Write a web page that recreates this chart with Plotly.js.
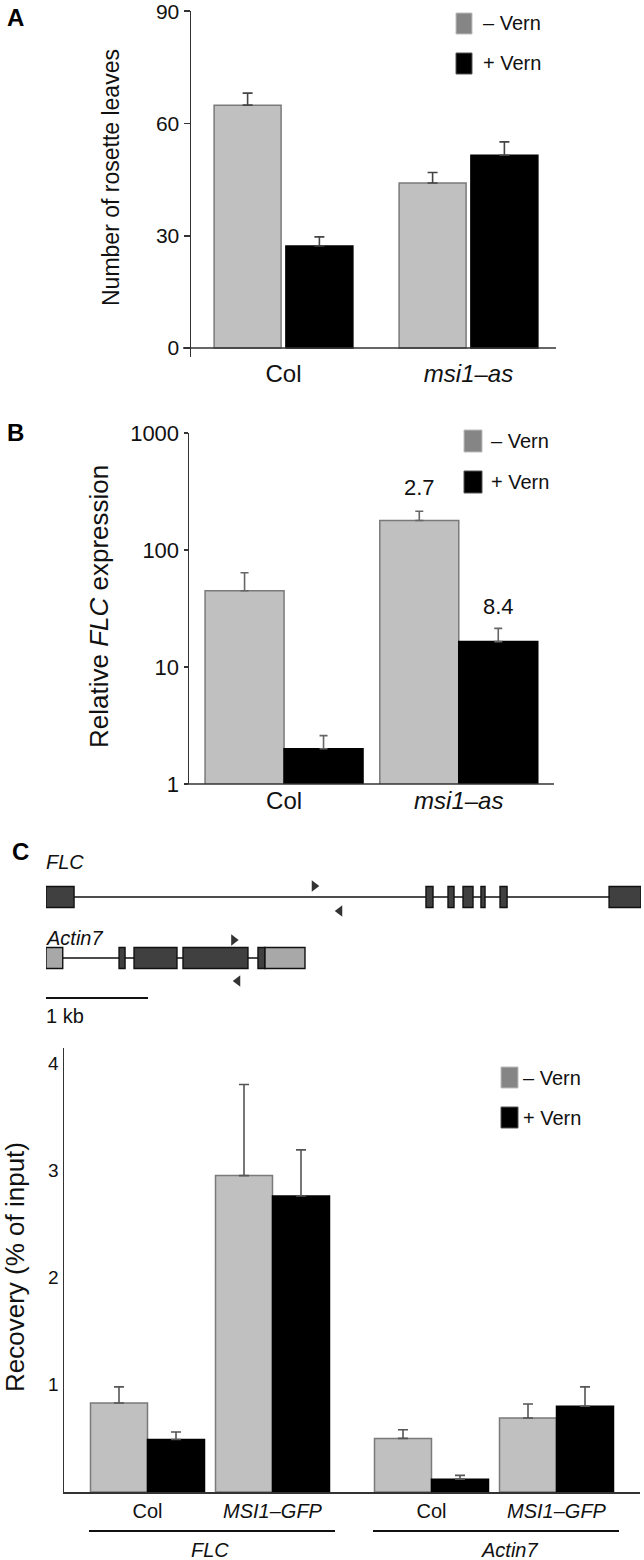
<!DOCTYPE html>
<html><head><meta charset="utf-8">
<script src="https://cdn.plot.ly/plotly-3.0.1.min.js"></script>
<style>html,body{margin:0;padding:0;background:#fff}</style>
</head><body><div id="chart" style="width:644px;height:1560px"></div>
<script>
// ---------- Panel A: flowering time (rosette leaves) ----------
const groupsA = ["Col", "<i>msi1–as</i>"];
const leavesMinus = [64.9, 44.1];
const leavesMinusErr = [3.2, 2.8];
const leavesPlus = [27.3, 51.5];
const leavesPlusErr = [2.4, 3.6];

// ---------- Panel B: relative FLC expression (log) ----------
const groupsB = ["Col", "<i>msi1–as</i>"];
const flcMinus = [44.9, 179];
const flcMinusErrTop = [64, 215];
const flcPlus = [2.0, 16.5];
const flcPlusErrTop = [2.59, 21.4];
const foldLabelsMinus = ["", "2.7"];
const foldLabelsPlus = ["", "8.4"];
const logTicks = [1, 10, 100, 1000];

// ---------- Panel C: gene models (kb) ----------
const flcExonStart = [0, 3.725, 3.941, 4.088, 4.264, 4.451, 5.52];
const flcExonEnd   = [0.275, 3.794, 4.0, 4.186, 4.304, 4.52, 5.833];
const actUtrStart  = [0, 2.147];
const actUtrEnd    = [0.164, 2.539];
const actExonStart = [0.716, 0.863, 1.343, 2.078];
const actExonEnd   = [0.775, 1.284, 1.98, 2.147];
const flcPrimerFwd = 2.63, flcPrimerRev = 2.88;
const actPrimerFwd = 1.84, actPrimerRev = 1.88;
const scaleBarKb = 1;

// ---------- Panel C: ChIP recovery ----------
const chipGenotypes = ["Col", "<i>MSI1–GFP</i>"];
const flcRecMinus = [0.83, 2.95];
const flcRecMinusErr = [0.15, 0.85];
const flcRecPlus = [0.49, 2.76];
const flcRecPlusErr = [0.07, 0.43];
const actRecMinus = [0.50, 0.69];
const actRecMinusErr = [0.08, 0.13];
const actRecPlus = [0.12, 0.80];
const actRecPlusErr = [0.035, 0.18];
const legendLabels = ["– Vern", "+ Vern"];

// ---------- helpers ----------
const W = 644, H = 1560;
const X = p => p / W;
const Y = p => 1 - p / H;
const FONT = "Liberation Sans, Arial, sans-serif";
const NARROW = "Liberation Sans Narrow, Arial Narrow, Liberation Sans, Arial, sans-serif";
const GRAY = "#c0c0c0", GRAYLINE = "#7a7a7a", BLACK = "#000000";

function errUp(arr, color, w) {
  return {type: "data", array: arr, arrayminus: arr.map(() => 0), symmetric: false,
          color: color, thickness: 1.6, width: w};
}

const traces = [];
// Panel A
const wA = 0.362;
traces.push({type: "bar", x: groupsA, y: leavesMinus, xaxis: "x", yaxis: "y",
  width: wA, offset: -wA - 0.013, marker: {color: GRAY, line: {color: GRAYLINE, width: 1.5}},
  error_y: errUp(leavesMinusErr, "#444", 5), showlegend: false, hoverinfo: "skip"});
traces.push({type: "bar", x: groupsA, y: leavesPlus, xaxis: "x", yaxis: "y",
  width: wA, offset: 0.013, marker: {color: BLACK, line: {color: BLACK, width: 1.5}},
  error_y: errUp(leavesPlusErr, "#444", 5), showlegend: false, hoverinfo: "skip"});

// Panel B
const wB = 0.452;
traces.push({type: "bar", x: groupsB, y: flcMinus, xaxis: "x2", yaxis: "y2",
  width: wB, offset: -wB, marker: {color: GRAY, line: {color: GRAYLINE, width: 1.5}},
  error_y: errUp(flcMinusErrTop.map((t, i) => t - flcMinus[i]), "#666", 4),
  showlegend: false, hoverinfo: "skip"});
traces.push({type: "bar", x: groupsB, y: flcPlus, xaxis: "x2", yaxis: "y2",
  width: wB, offset: 0, marker: {color: BLACK, line: {color: BLACK, width: 1.5}},
  error_y: errUp(flcPlusErrTop.map((t, i) => t - flcPlus[i]), "#666", 4),
  showlegend: false, hoverinfo: "skip"});

// Panel C gene models: primers as markers
const FLC_ROW = 133, ACT_ROW = 72, BAR_ROW = 32, HALF = 10.5;
traces.push({type: "scatter", mode: "markers", xaxis: "x3", yaxis: "y3",
  x: [flcPrimerFwd, actPrimerFwd], y: [FLC_ROW + 11, ACT_ROW + 18],
  marker: {symbol: "triangle-right", size: 10, color: "#333"}, showlegend: false, hoverinfo: "skip"});
traces.push({type: "scatter", mode: "markers", xaxis: "x3", yaxis: "y3",
  x: [flcPrimerRev, actPrimerRev], y: [FLC_ROW - 14, ACT_ROW - 23],
  marker: {symbol: "triangle-left", size: 10, color: "#333"}, showlegend: false, hoverinfo: "skip"});

// Panel C ChIP
const wC = 0.456;
[["x4", flcRecMinus, flcRecMinusErr, flcRecPlus, flcRecPlusErr],
 ["x5", actRecMinus, actRecMinusErr, actRecPlus, actRecPlusErr]].forEach(g => {
  traces.push({type: "bar", x: chipGenotypes, y: g[1], xaxis: g[0], yaxis: "y4",
    width: wC, offset: -wC, marker: {color: GRAY, line: {color: GRAYLINE, width: 1.5}},
    error_y: errUp(g[2], "#555", 5), showlegend: false, hoverinfo: "skip"});
  traces.push({type: "bar", x: chipGenotypes, y: g[3], xaxis: g[0], yaxis: "y4",
    width: wC, offset: 0, marker: {color: BLACK, line: {color: BLACK, width: 1.5}},
    error_y: errUp(g[4], "#555", 5), showlegend: false, hoverinfo: "skip"});
});

// ---------- shapes ----------
const shapes = [];
// Axis lines (crossing style)
shapes.push({type: "line", xref: "paper", yref: "y", x0: X(183), x1: X(556), y0: 0, y1: 0,
  line: {color: "#333", width: 1.5}});
shapes.push({type: "line", xref: "paper", yref: "paper", x0: X(185), x1: X(554), y0: Y(784), y1: Y(784),
  line: {color: "#333", width: 1.5}});
// gene models
shapes.push({type: "line", xref: "x3", yref: "y3", x0: flcExonStart[0], x1: flcExonEnd[flcExonEnd.length - 1],
  y0: FLC_ROW, y1: FLC_ROW, line: {color: "#111", width: 1.6}, layer: "below"});
flcExonStart.forEach((s, i) => shapes.push({type: "rect", xref: "x3", yref: "y3",
  x0: s, x1: flcExonEnd[i], y0: FLC_ROW - HALF, y1: FLC_ROW + HALF,
  fillcolor: "#404040", line: {color: "#111", width: 1.4}}));
shapes.push({type: "line", xref: "x3", yref: "y3", x0: actUtrStart[0], x1: actUtrEnd[actUtrEnd.length - 1],
  y0: ACT_ROW, y1: ACT_ROW, line: {color: "#111", width: 1.6}, layer: "below"});
actExonStart.forEach((s, i) => shapes.push({type: "rect", xref: "x3", yref: "y3",
  x0: s, x1: actExonEnd[i], y0: ACT_ROW - HALF, y1: ACT_ROW + HALF,
  fillcolor: "#404040", line: {color: "#111", width: 1.4}}));
actUtrStart.forEach((s, i) => shapes.push({type: "rect", xref: "x3", yref: "y3",
  x0: s, x1: actUtrEnd[i], y0: ACT_ROW - HALF, y1: ACT_ROW + HALF,
  fillcolor: "#a8a8a8", line: {color: "#111", width: 1.4}}));
shapes.push({type: "line", xref: "x3", yref: "y3", x0: 0, x1: scaleBarKb, y0: BAR_ROW, y1: BAR_ROW,
  line: {color: "#111", width: 2}});
// gene underlines in ChIP panel
shapes.push({type: "line", xref: "paper", yref: "paper", x0: X(89), x1: X(335), y0: Y(1531), y1: Y(1531),
  line: {color: "#111", width: 2}});
shapes.push({type: "line", xref: "paper", yref: "paper", x0: X(373), x1: X(619), y0: Y(1531), y1: Y(1531),
  line: {color: "#111", width: 2}});

// legends (swatch + label)
const annotations = [];
function legend(x0, x1, yTop1, yTop2, h, tx, size) {
  shapes.push({type: "rect", xref: "paper", yref: "paper", x0: X(x0), x1: X(x1), y0: Y(yTop1 + h), y1: Y(yTop1),
    fillcolor: "#858585", line: {color: "#bdbdbd", width: 1}});
  shapes.push({type: "rect", xref: "paper", yref: "paper", x0: X(x0), x1: X(x1), y0: Y(yTop2 + h), y1: Y(yTop2),
    fillcolor: "#000", line: {color: "#555", width: 1}});
  annotations.push({xref: "paper", yref: "paper", x: X(tx), y: Y(yTop1 + h / 2), xanchor: "left", yanchor: "middle",
    text: legendLabels[0], showarrow: false, font: {family: NARROW, size: size, color: "#111"}});
  annotations.push({xref: "paper", yref: "paper", x: X(tx), y: Y(yTop2 + h / 2), xanchor: "left", yanchor: "middle",
    text: legendLabels[1], showarrow: false, font: {family: NARROW, size: size, color: "#111"}});
}
legend(456, 472, 13, 53, 21, 481, 20);
legend(464, 482, 430, 471, 22, 489, 20);
legend(501, 518, 1067, 1107, 21, 521, 20);

// panel letters
[["A", 16, 18], ["B", 16, 432], ["C", 20, 852]].forEach(l => annotations.push({
  xref: "paper", yref: "paper", x: X(l[1]), y: Y(l[2]), xanchor: "center", yanchor: "middle",
  text: "<b>" + l[0] + "</b>", showarrow: false, font: {family: FONT, size: 24, color: "#000"}}));

// axis titles
[["Number of rosette leaves", 111, 178, 23], ["Relative <i>FLC</i> expression", 99, 607, 26],
 ["Recovery (% of input)", 15, 1267, 26]].forEach(t => annotations.push({
  xref: "paper", yref: "paper", x: X(t[1]), y: Y(t[2]), xanchor: "center", yanchor: "middle",
  text: t[0], textangle: -90, showarrow: false, font: {family: FONT, size: t[3], color: "#111"}}));

// fold-change labels in panel B
foldLabelsMinus.forEach((s, i) => { if (s) annotations.push({xref: "x2", yref: "y2",
  x: i - wB / 2, y: Math.log10(flcMinusErrTop[i]), yanchor: "bottom", yshift: 9, text: s,
  showarrow: false, font: {family: FONT, size: 22, color: "#111"}}); });
foldLabelsPlus.forEach((s, i) => { if (s) annotations.push({xref: "x2", yref: "y2",
  x: i + wB / 2, y: Math.log10(flcPlusErrTop[i]), yanchor: "bottom", yshift: 7, text: s,
  showarrow: false, font: {family: FONT, size: 22, color: "#111"}}); });

// gene labels
annotations.push({xref: "paper", yref: "paper", x: X(44), y: Y(862), xanchor: "left", yanchor: "middle",
  text: "<i>FLC</i>", showarrow: false, font: {family: NARROW, size: 20, color: "#111"}});
annotations.push({xref: "paper", yref: "paper", x: X(44), y: Y(938), xanchor: "left", yanchor: "middle",
  text: "<i>Actin7</i>", showarrow: false, font: {family: NARROW, size: 20, color: "#111"}});
annotations.push({xref: "paper", yref: "paper", x: X(44), y: Y(1016), xanchor: "left", yanchor: "middle",
  text: "1 kb", showarrow: false, font: {family: NARROW, size: 20, color: "#111"}});
annotations.push({xref: "paper", yref: "paper", x: X(210), y: Y(1550), xanchor: "center", yanchor: "middle",
  text: "<i>FLC</i>", showarrow: false, font: {family: NARROW, size: 20, color: "#111"}});
annotations.push({xref: "paper", yref: "paper", x: X(509), y: Y(1550), xanchor: "center", yanchor: "middle",
  text: "<i>Actin7</i>", showarrow: false, font: {family: NARROW, size: 20, color: "#111"}});

const catAxis = (dom, rng, anchor, size, fam) => ({domain: dom, range: rng, anchor: anchor, type: "category",
  showgrid: false, zeroline: false, showline: false, ticks: "", fixedrange: true,
  tickfont: {family: fam, size: size, color: "#111"}});

const layout = {
  width: W, height: H, margin: {l: 0, r: 0, t: 0, b: 0},
  paper_bgcolor: "#fff", plot_bgcolor: "rgba(0,0,0,0)",
  barmode: "overlay", showlegend: false, font: {family: FONT, color: "#111"},
  xaxis: catAxis([X(191), X(556)], [-0.5, 1.473], "y", 24, FONT),
  yaxis: {domain: [Y(357), Y(11)], range: [-2.38, 90.05], anchor: "x", tickvals: [0, 30, 60, 90],
    ticks: "outside", ticklen: 6, tickwidth: 1.5, tickcolor: "#333", showline: true, linecolor: "#333",
    linewidth: 1.5, showgrid: false, zeroline: false, ticklabeloverflow: "allow",
    tickfont: {family: FONT, size: 21, color: "#111"}},
  xaxis2: catAxis([X(189), X(554)], [-0.544, 1.545], "y2", 24, FONT),
  yaxis2: {domain: [Y(784), Y(433)], type: "log", range: [0, 3.001], anchor: "x2", tickvals: logTicks,
    ticktext: logTicks.map(String), ticks: "outside", ticklen: 4, tickwidth: 1.5, tickcolor: "#333",
    showline: true, linecolor: "#333", linewidth: 1.5, showgrid: false, zeroline: false,
    ticklabeloverflow: "allow", tickfont: {family: FONT, size: 22, color: "#111"}},
  xaxis3: {domain: [X(46), X(641)], range: [0, 5.833], anchor: "y3", visible: false, fixedrange: true},
  yaxis3: {domain: [Y(1030), Y(860)], range: [0, 170], anchor: "x3", visible: false, fixedrange: true},
  xaxis4: Object.assign(catAxis([X(64), X(351.5)], [-0.668, 1.632], "y4", 20, NARROW),
    {showline: true, linecolor: "#333", linewidth: 1.5}),
  xaxis5: Object.assign(catAxis([X(351.5), X(640)], [-0.64, 1.668], "y4", 20, NARROW),
    {showline: true, linecolor: "#333", linewidth: 1.5}),
  yaxis4: {domain: [Y(1492), Y(1048)], range: [0, 4.14], anchor: "x4", tickvals: [1, 2, 3, 4],
    ticks: "", showline: true, linecolor: "#333", linewidth: 1.5, showgrid: false, zeroline: false,
    ticklabeloverflow: "allow", tickfont: {family: NARROW, size: 19, color: "#111"}},
  shapes: shapes, annotations: annotations
};

Plotly.newPlot("chart", traces, layout, {staticPlot: true, displayModeBar: false});
</script></body></html>
